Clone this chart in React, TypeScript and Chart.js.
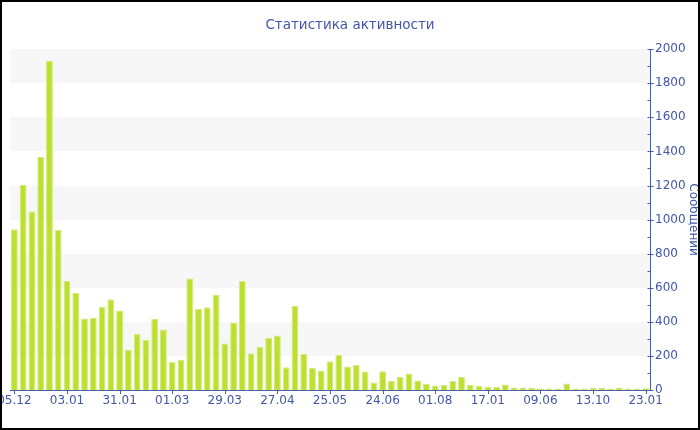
import React, { useEffect, useRef } from "react";
import { Chart, registerables } from "chart.js";

Chart.register(...registerables);

// Date labels shown under every sixth week
const tickLabels = [
  "05.12", "03.01", "31.01", "01.03", "29.03", "27.04", "25.05",
  "24.06", "01.08", "17.01", "09.06", "13.10", "23.01",
];

// Messages per week
const messages = [
  943, 1203, 1047, 1368, 1931, 939, 639, 571, 420, 422, 489, 532,
  467, 236, 328, 293, 416, 355, 166, 177, 655, 477, 485, 557,
  273, 396, 639, 216, 254, 306, 320, 134, 494, 212, 130, 115,
  169, 205, 138, 148, 109, 44, 110, 54, 77, 97, 56, 36,
  26, 30, 54, 77, 30, 25, 19, 19, 32, 15, 15, 13,
  9, 9, 9, 38, 9, 9, 13, 13, 9, 15, 9, 9,
  11,
];

const LABEL_EVERY = 6;
const Y_MAX = 2000;
const Y_STEP = 200;

const FONT = "'DejaVu Sans', Verdana, sans-serif";
const TEXT = "#4257a6";
const AXIS = "#4a60aa";
const BAND = "#f7f7f7";

const categories = messages.map((_, i) =>
  i % LABEL_EVERY === 0 ? tickLabels[i / LABEL_EVERY] ?? "" : ""
);

// Alternating background bands plus hand-drawn tick marks on both axes
const decorPlugin = {
  id: "decor",
  beforeDatasetsDraw(chart: any) {
    const { ctx, chartArea, scales } = chart;
    const y = scales.y;
    ctx.save();
    ctx.fillStyle = BAND;
    for (let v = Y_STEP; v < Y_MAX; v += Y_STEP * 2) {
      const top = Math.round(y.getPixelForValue(v + Y_STEP));
      const bottom = Math.round(y.getPixelForValue(v));
      ctx.fillRect(chartArea.left, top, chartArea.right - chartArea.left, bottom - top);
    }
    ctx.restore();
  },
  afterDraw(chart: any) {
    const { ctx, chartArea, scales } = chart;
    const x = scales.x;
    const y = scales.y;
    ctx.save();
    ctx.strokeStyle = AXIS;
    ctx.lineWidth = 1;
    ctx.beginPath();
    const ax = Math.round(chartArea.right) + 0.5;
    for (let v = 0; v <= Y_MAX; v += Y_STEP / 2) {
      const py = Math.round(y.getPixelForValue(v)) + 0.5;
      const major = v % Y_STEP === 0;
      ctx.moveTo(ax - 3, py);
      ctx.lineTo(major ? ax + 3 : ax, py);
    }
    const by = Math.round(chartArea.bottom);
    for (let i = 0; i < messages.length; i += LABEL_EVERY) {
      const px = Math.round(x.getPixelForValue(i)) + 0.5;
      ctx.moveTo(px, by);
      ctx.lineTo(px, by + 4);
    }
    ctx.stroke();
    ctx.restore();
  },
};

export default function App() {
  const canvasRef = useRef<HTMLCanvasElement | null>(null);

  useEffect(() => {
    const canvas = canvasRef.current;
    if (!canvas) return;
    const chart = new Chart(canvas, {
      type: "bar",
      data: {
        labels: categories,
        datasets: [
          {
            label: "Сообщений",
            data: messages,
            backgroundColor: "#bde030",
            borderColor: "#d3eb7c",
            borderWidth: 1,
            barPercentage: 0.78,
            categoryPercentage: 1,
          },
        ],
      },
      plugins: [decorPlugin],
      options: {
        animation: false,
        responsive: false,
        maintainAspectRatio: false,
        layout: { padding: 0 },
        plugins: {
          legend: { display: false },
          tooltip: { enabled: false },
          title: {
            display: true,
            text: "Статистика активности",
            color: TEXT,
            font: { family: FONT, size: 13.5, weight: "normal" },
            padding: { top: 17, bottom: 16 },
          },
        },
        scales: {
          x: {
            offset: true,
            grid: { display: false, drawTicks: false },
            border: { display: true, color: AXIS, width: 1 },
            ticks: {
              autoSkip: false,
              maxRotation: 0,
              minRotation: 0,
              padding: 4,
              color: TEXT,
              font: { family: FONT, size: 12 },
            },
            afterFit(scale: any) {
              // Keep a fixed 10px gutter on the left; the first date may run past it
              scale.height = 40;
              scale.paddingLeft = 10;
              scale.paddingRight = 0;
            },
          },
          y: {
            position: "right",
            min: 0,
            max: Y_MAX,
            grid: { display: false, drawTicks: false },
            border: { display: true, color: AXIS, width: 1 },
            ticks: {
              stepSize: Y_STEP,
              padding: 5,
              color: TEXT,
              font: { family: FONT, size: 12 },
              callback: (value: any) => String(value),
            },
            title: {
              display: true,
              text: "Сообщений",
              color: TEXT,
              font: { family: FONT, size: 12 },
              padding: 0,
            },
            afterFit(scale: any) {
              scale.width = 50;
            },
          },
        },
      },
    });
    return () => chart.destroy();
  }, []);

  return (
    <div
      style={{
        position: "absolute",
        left: 0,
        top: 0,
        width: 700,
        height: 430,
        overflow: "hidden",
        background: "#ffffff",
      }}
    >
      <canvas ref={canvasRef} width={700} height={430} style={{ display: "block" }} />
      <div
        style={{
          position: "absolute",
          inset: 0,
          border: "2px solid #000000",
          pointerEvents: "none",
        }}
      />
    </div>
  );
}
